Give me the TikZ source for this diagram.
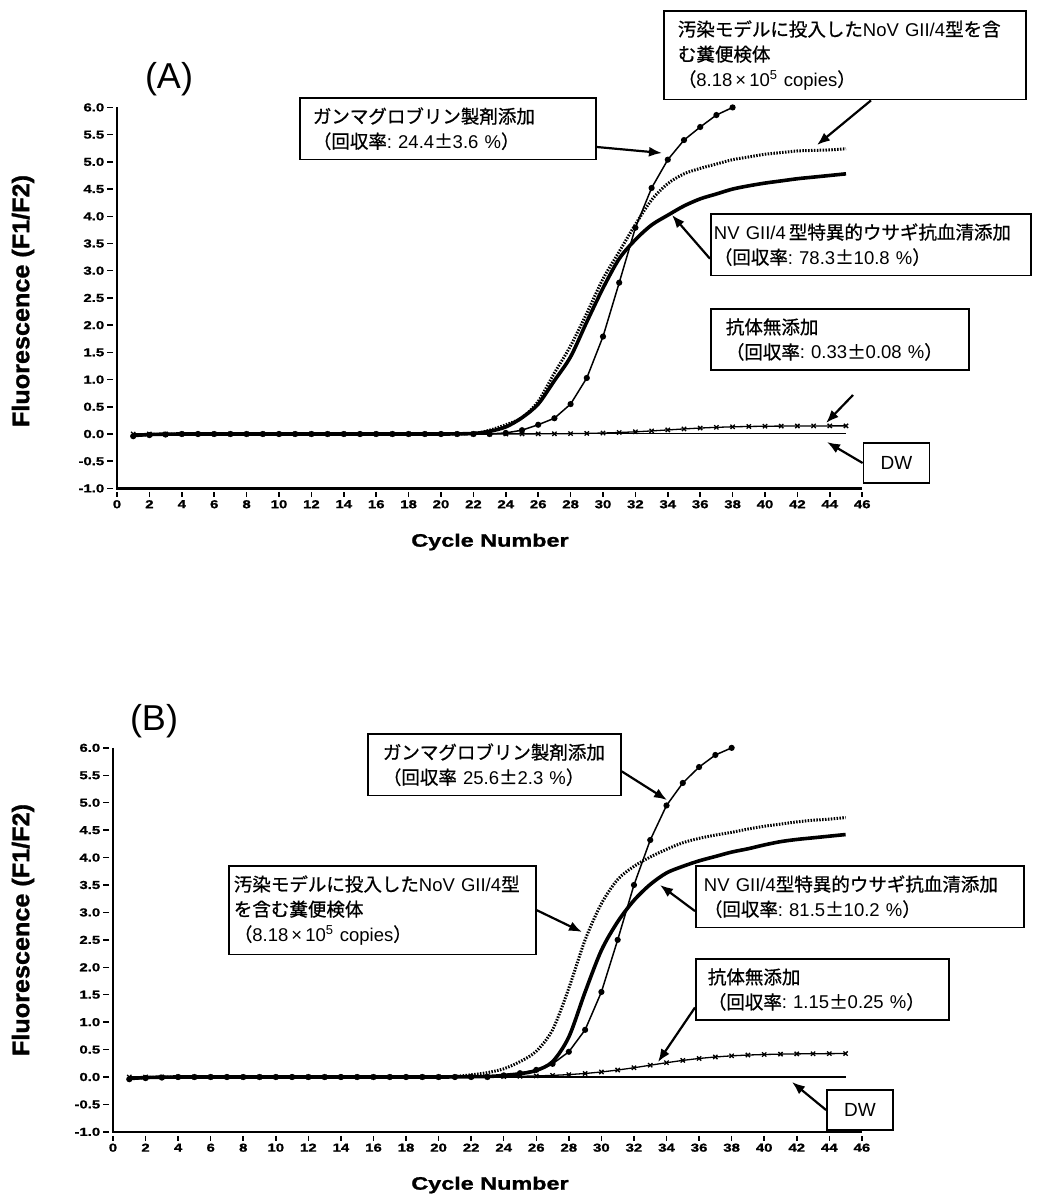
\documentclass[tikz,border=0pt]{standalone}
\usepackage{fontspec}
\setmainfont{Liberation Sans}
\newfontfamily\jpfont[FakeBold=0.8]{Noto Sans CJK JP}
\newfontfamily\axfont[FakeStretch=1.3, FakeBold=1.2]{Liberation Sans}
\newfontfamily\ylabfont[FakeStretch=1.05, FakeBold=1.2]{Liberation Sans}
\newcommand{\jp}[1]{{\jpfont #1}}
\usetikzlibrary{arrows.meta}

\tikzset{
  lblbox/.style={draw, line width=1.8pt, anchor=north west, align=left, inner ysep=9.5pt,
    font=\fontsize{18.5}{25}\selectfont},
  dwbox/.style={draw, line width=1.8pt, minimum width=66pt, minimum height=40pt, inner sep=0pt,
    font=\fontsize{19}{22}\selectfont},
  arr/.style={line width=2.2pt, -{Latex[length=13pt,width=10pt]}},
  gamcurve/.style={line width=1.5pt, mark=*, mark size=2.3pt},
  concurve/.style={line width=3pt, dash pattern=on 1.5pt off 1.4pt},
  nvcurve/.style={line width=3.6pt},
  noabcurve/.style={line width=1.3pt, mark=x, mark size=3pt},
  dwcurve/.style={line width=1.3pt, mark=|, mark size=3pt},
  ticklbl/.style={font=\axfont\bfseries\fontsize{11.5}{13}\selectfont}
}

\begin{document}
\begin{tikzpicture}[x=1pt,y=-1pt]
\useasboundingbox (0,0) rectangle (1038,1197);

% axes of both panels: origin px/py, units ux/uy
\foreach \px/\py/\ux/\uy/\lab/\ly/\tx/\ty in {117/434/16.2/54.43/A/301/169/79, 113/1077/16.28/54.86/B/930/154/721} {
\begin{scope}[shift={(\px,\py)}, x=\ux pt, y=\uy pt]
\draw[line width=2.2pt] (0,6) -- (0,-1) -- (46,-1);
\foreach \x in {0,2,...,46} % ticks and numbers on the cycle axis
\draw[shift={(\x,-1)}, line width=1.5pt] (0pt,-4pt) -- (0pt,-9pt) node[below, ticklbl, inner sep=2pt] (xt\lab\x) {\x};
\foreach \y/\t [count=\k] in {-1/-1.0,-0.5/-0.5,0/0.0,0.5/0.5,1/1.0,1.5/1.5,2/2.0,2.5/2.5,3/3.0,3.5/3.5,4/4.0,4.5/4.5,5/5.0,5.5/5.5,6/6.0} % fluorescence axis
\draw[shift={(0,\y)}, line width=1.5pt] (-4pt,0pt) -- (-10pt,0pt) node[left, ticklbl, inner sep=2pt] (yt\lab\k) {\t};
\end{scope}
\node[font=\fontsize{36}{40}\selectfont] (pan\lab) at (\tx,\ty) {(\lab)};
\node[font=\ylabfont\bfseries\fontsize{24}{28}\selectfont, rotate=90] (ylab\lab) at (23,\ly) {Fluorescence (F1/F2)};
\node[font=\axfont\bfseries\fontsize{18}{20}\selectfont] (cyc\lab) at (490,{\py+108}) {Cycle Number};
}

% panel A curves
\begin{scope}[shift={(117,434)}, x=16.2pt, y=54.43pt]
\draw[dwcurve] plot[domain=1:45, samples=45] (\x,0.01);
\draw[noabcurve] plot[domain=1:45, samples=45] (\x,{0.15/(1+exp(min(8,-(\x-34)/2)))});
\draw[gamcurve] plot coordinates {(1,-0.04)(2,-0.02)(3,-0.01)(4,0)(5,0)(6,0)(7,0)(8,0)(9,0)(10,0)(11,0)(12,0)(13,0)(14,0)(15,0)(16,0)(17,0)(18,0)(19,0)(20,0)(21,0)(22,0)(23,0)(24,0.02)(25,0.07)(26,0.17)(27,0.29)(28,0.55)(29,1.03)(30,1.79)(31,2.78)(32,3.79)(33,4.52)(34,5.04)(35,5.40)(36,5.64)(37,5.86)(38,6.0)};
\draw[concurve] plot[smooth, tension=0.5] coordinates {(1,-0.03)(2,-0.01)(4,0)(8,0)(12,0)(16,0)(20,0)(22,0.01)(23,0.07)(24,0.17)(25,0.30)(26,0.60)(27,1.12)(28,1.62)(29,2.22)(30,2.85)(31,3.35)(32,3.85)(33,4.30)(34,4.60)(35,4.78)(36,4.88)(37,4.96)(38,5.04)(39,5.09)(40,5.14)(41,5.17)(42,5.20)(43,5.21)(44,5.22)(45,5.24)};
\draw[nvcurve] plot[smooth, tension=0.5] coordinates {(1,-0.03)(2,-0.01)(4,0)(8,0)(12,0)(16,0)(20,0)(22,0.01)(23,0.05)(24,0.13)(25,0.30)(26,0.55)(27,0.98)(28,1.42)(29,2.06)(30,2.68)(31,3.22)(32,3.57)(33,3.84)(34,4.02)(35,4.19)(36,4.32)(37,4.41)(38,4.50)(39,4.56)(40,4.61)(41,4.65)(42,4.69)(43,4.72)(44,4.75)(45,4.78)};
\end{scope}

% panel B curves
\begin{scope}[shift={(113,1077)}, x=16.28pt, y=54.86pt]
\draw[dwcurve] plot[domain=1:45, samples=45] (\x,0);
\draw[noabcurve] plot[domain=1:45, samples=45] (\x,{0.43/(1+exp(min(8,-(\x-33)/2.3)))});
\draw[gamcurve] plot coordinates {(1,-0.04)(2,-0.02)(3,-0.01)(4,0)(5,0)(6,0)(7,0)(8,0)(9,0)(10,0)(11,0)(12,0)(13,0)(14,0)(15,0)(16,0)(17,0)(18,0)(19,0)(20,0)(21,0)(22,0)(23,0)(24,0.03)(25,0.07)(26,0.13)(27,0.24)(28,0.46)(29,0.86)(30,1.55)(31,2.5)(32,3.5)(33,4.32)(34,4.95)(35,5.36)(36,5.65)(37,5.87)(38,6.0)};
\draw[concurve] plot[smooth, tension=0.5] coordinates {(1,-0.03)(2,-0.01)(4,0)(8,0)(12,0)(16,0)(20,0)(21,0.01)(22,0.04)(23,0.08)(24,0.15)(25,0.28)(26,0.47)(27,0.86)(28,1.62)(29,2.5)(30,3.16)(31,3.6)(32,3.84)(33,4.01)(34,4.15)(35,4.27)(36,4.35)(37,4.41)(38,4.46)(39,4.52)(40,4.57)(41,4.61)(42,4.65)(43,4.68)(44,4.70)(45,4.73)};
\draw[nvcurve] plot[smooth, tension=0.5] coordinates {(1,-0.03)(2,-0.01)(4,0)(8,0)(12,0)(16,0)(20,0)(23,0.01)(24,0.03)(25,0.06)(26,0.12)(27,0.28)(28,0.73)(29,1.55)(30,2.31)(31,2.83)(32,3.22)(33,3.51)(34,3.72)(35,3.84)(36,3.94)(37,4.02)(38,4.10)(39,4.16)(40,4.23)(41,4.29)(42,4.33)(43,4.36)(44,4.39)(45,4.42)};
\end{scope}

% labels of panel A
\node[lblbox, text width=270pt, inner xsep=13pt] (gamA) at (299,97) {\jp{ガンマグロブリン製剤添加}\\\jp{（回収率}:~24.4\jp{±}3.6~\%\jp{）}};
\node[lblbox, text width=334pt, inner xsep=14pt] (conA) at (663,10) {\jp{汚染モデルに投入した}NoV~GII/4\jp{型を含}\\\jp{む糞便検体}\\\jp{（}8.18\,×\,10\textsuperscript{5}~copies\jp{）}};
\node[lblbox, text width=314pt, inner xsep=3pt] (nvA) at (710,213) {NV~GII/4\,\jp{型特異的ウサギ抗血清添加}\\\jp{（回収率}:~78.3\jp{±}10.8~\%\jp{）}};
\node[lblbox, text width=228pt, inner xsep=15pt] (noabA) at (710,308) {\jp{抗体無添加}\\\jp{（回収率}:~0.33\jp{±}0.08~\%\jp{）}};
\node[dwbox] (dwA) at (896.5,463) {DW};
\coordinate (gamAtip) at (662,153);
\coordinate (conAtip) at (817,145);
\coordinate (nvAtip) at (672,215);
\coordinate (noabAtail) at (853,395);
\coordinate (noabAtip) at (826,423);
\coordinate (dwAtip) at (827,442);
\draw[arr] (gamA.-7) -- (gamAtip);
\draw[arr] (conA.-60) -- (conAtip);
\draw[arr] (nvA.185) -- (nvAtip);
\draw[arr] (noabAtail) -- (noabAtip);
\draw[arr] (dwA.west) -- (dwAtip);

% labels of panel B
\node[lblbox, text width=223pt, inner xsep=15pt] (gamB) at (367,733) {\jp{ガンマグロブリン製剤添加}\\\jp{（回収率}~25.6\jp{±}2.3~\%\jp{）}};
\node[lblbox, text width=297pt, inner xsep=5pt] (conB) at (228,865) {\jp{汚染モデルに投入した}NoV~GII/4\jp{型}\\\jp{を含む糞便検体}\\\jp{（}8.18\,×\,10\textsuperscript{5}~copies\jp{）}};
\node[lblbox, text width=312pt, inner xsep=8pt] (nvB) at (695,865) {NV~GII/4\jp{型特異的ウサギ抗血清添加}\\\jp{（回収率}:~81.5\jp{±}10.2~\%\jp{）}};
\node[lblbox, text width=229pt, inner xsep=12pt] (noabB) at (695,958) {\jp{抗体無添加}\\\jp{（回収率}:~1.15\jp{±}0.25~\%\jp{）}};
\node[dwbox] (dwB) at (860,1110) {DW};
\coordinate (gamBtip) at (667,800);
\coordinate (conBtip) at (582,932);
\coordinate (nvBtip) at (660,885);
\coordinate (noabBtip) at (658,1062);
\coordinate (dwBtip) at (792,1082);
\draw[arr] (gamB.-3) -- (gamBtip);
\draw[arr] (conB.east) -- (conBtip);
\draw[arr] (nvB.185) -- (nvBtip);
\draw[arr] (noabB.188) -- (noabBtip);
\draw[arr] (dwB.west) -- (dwBtip);
\end{tikzpicture}
\end{document}
